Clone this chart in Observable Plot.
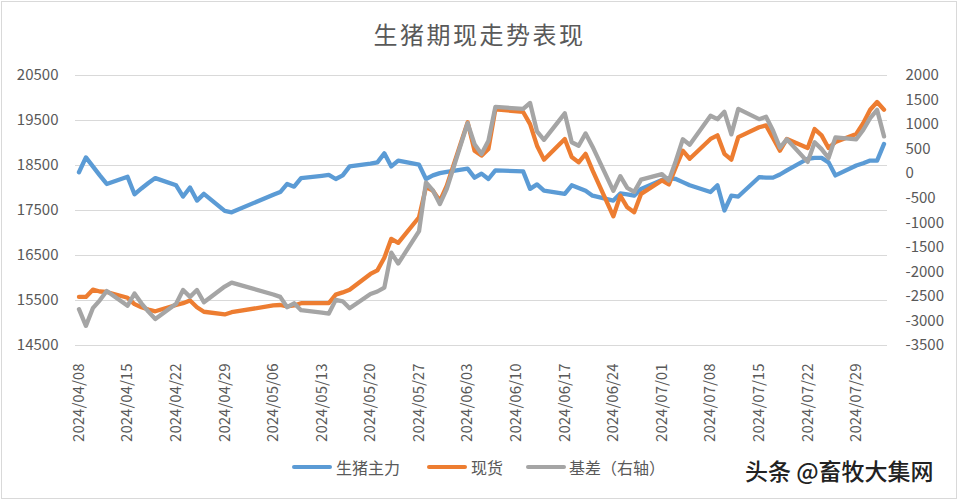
<!DOCTYPE html>
<html>
<head>
<meta charset="utf-8">
<script src="https://cdn.jsdelivr.net/npm/d3@7"></script>
<script src="https://cdn.jsdelivr.net/npm/@observablehq/plot@0.6"></script>
<style>
html,body{margin:0;padding:0;background:#fff;}
#wrap{position:relative;width:959px;height:500px;background:#fff;font-family:"Noto Sans CJK SC",sans-serif;overflow:hidden;}
#frame{position:absolute;left:1px;top:1px;width:954px;height:496px;border:1px solid #d9d9d9;pointer-events:none;}
#title{position:absolute;left:0;top:0;width:959px;height:68px;line-height:68px;text-align:center;font-size:24px;color:#595959;letter-spacing:2.5px;}
#chart{position:absolute;left:0;top:60px;}
#legend{position:absolute;left:0;top:440px;width:959px;height:60px;}
.sw{position:absolute;height:4px;width:40px;border-radius:2px;top:25px;}
.lt{position:absolute;top:16px;font-size:16px;line-height:22px;color:#595959;white-space:nowrap;}
#wm{position:absolute;left:745px;top:455px;font-size:23px;line-height:30px;color:#222;font-weight:500;white-space:nowrap;}
</style>
</head>
<body>
<div id="wrap">
  <div id="title"></div>
  <div id="chart"></div>
  <div id="legend"></div>
  <div id="wm"></div>
  <div id="frame"></div>
</div>
<script>
const chartTitle = "生猪期现走势表现";
const watermark = "头条 @畜牧大集网";
const seriesNames = ["生猪主力", "现货", "基差（右轴）"];
const seriesColors = ["#5B9BD5", "#ED7D31", "#A5A5A5"];

const dates = [
"2024-04-08","2024-04-09","2024-04-10","2024-04-11","2024-04-12",
"2024-04-15","2024-04-16","2024-04-17","2024-04-18","2024-04-19",
"2024-04-22","2024-04-23","2024-04-24","2024-04-25","2024-04-26",
"2024-04-29","2024-04-30",
"2024-05-06","2024-05-07","2024-05-08","2024-05-09","2024-05-10",
"2024-05-13","2024-05-14","2024-05-15","2024-05-16","2024-05-17",
"2024-05-20","2024-05-21","2024-05-22","2024-05-23","2024-05-24",
"2024-05-27","2024-05-28","2024-05-29","2024-05-30","2024-05-31",
"2024-06-03","2024-06-04","2024-06-05","2024-06-06","2024-06-07",
"2024-06-11","2024-06-12","2024-06-13","2024-06-14",
"2024-06-17","2024-06-18","2024-06-19","2024-06-20","2024-06-21",
"2024-06-24","2024-06-25","2024-06-26","2024-06-27","2024-06-28",
"2024-07-01","2024-07-02","2024-07-03","2024-07-04","2024-07-05",
"2024-07-08","2024-07-09","2024-07-10","2024-07-11","2024-07-12",
"2024-07-15","2024-07-16","2024-07-17","2024-07-18","2024-07-19",
"2024-07-22","2024-07-23","2024-07-24","2024-07-25","2024-07-26",
"2024-07-29","2024-07-30","2024-07-31","2024-08-01","2024-08-02"
];

// 生猪主力 (left axis)
const futures = [
18350,18680,18480,18280,18090,
18250,17860,17990,18110,18220,
18060,17810,18010,17720,17870,
17490,17460,
17850,17910,18090,18030,18220,
18270,18290,18200,18280,18480,
18540,18570,18770,18480,18610,
18520,18200,18280,18330,18360,
18430,18230,18320,18200,18390,
18370,17980,18080,17940,
17870,18060,18000,17940,17830,
17720,17880,17860,17830,17980,
18180,18220,18200,18130,18060,
17910,18060,17500,17830,17810,
18240,18230,18230,18300,18390,
18650,18670,18670,18570,18280,
18500,18550,18610,18610,18980
];

// 现货 (left axis)
const spot = [
15580,15580,15740,15700,15690,
15560,15420,15350,15300,15260,
15400,15440,15500,15350,15250,
15190,15240,
15390,15400,15370,15390,15440,
15440,15440,15630,15680,15740,
16090,16170,16450,16870,16780,
17350,18020,17940,17710,18050,
19460,18830,18720,18870,19750,
19690,19420,18940,18630,
19090,18690,18570,18760,18390,
17370,17830,17570,17460,17870,
18170,18080,18460,18830,18650,
19090,19170,18760,18630,19130,
19350,19390,19110,18830,19090,
18890,19310,19170,18890,19020,
19200,19440,19740,19910,19740
];

// 基差 (right axis)
const basis = [
-2760,-3100,-2740,-2580,-2390,
-2690,-2440,-2640,-2810,-2960,
-2650,-2370,-2510,-2370,-2620,
-2300,-2220,
-2460,-2510,-2720,-2640,-2780,
-2830,-2850,-2570,-2600,-2740,
-2450,-2400,-2320,-1610,-1830,
-1170,-180,-340,-620,-310,
1030,600,400,670,1360,
1320,1440,860,690,
1230,640,570,820,550,
-350,-50,-290,-370,-120,
-10,-140,260,700,590,
1180,1110,1260,800,1320,
1110,1160,880,530,700,
240,640,500,320,740,
700,890,1130,1300,760
];

const leftTicks = [14500,15500,16500,17500,18500,19500,20500];
const rightTicks = [-3500,-3000,-2500,-2000,-1500,-1000,-500,0,500,1000,1500,2000];
const xTickLabels = ["2024-04-08","2024-04-15","2024-04-22","2024-04-29","2024-05-06","2024-05-13",
"2024-05-20","2024-05-27","2024-06-03","2024-06-10","2024-06-17","2024-06-24","2024-07-01",
"2024-07-08","2024-07-15","2024-07-22","2024-07-29"];

// secondary axis mapping onto the primary scale
const L0 = 14500, L1 = 20500, R0 = -3500, R1 = 2000;
const toLeft = b => L0 + (b - R0) * (L1 - L0) / (R1 - R0);
const fromLeft = v => R0 + (v - L0) * (R1 - R0) / (L1 - L0);

const rows = dates.map((d, i) => ({
  date: new Date(d + "T00:00:00Z"),
  fut: futures[i],
  spot: spot[i],
  basisL: toLeft(basis[i])
}));

const fmt = d3.utcFormat("%Y/%m/%d");
const font = "'Noto Sans CJK SC', sans-serif";

const chart = Plot.plot({
  width: 959,
  height: 380,
  marginTop: 15,
  marginBottom: 95,
  marginLeft: 75,
  marginRight: 72,
  x: {type: "utc", domain: [new Date(Date.UTC(2024,3,7,12)), new Date(Date.UTC(2024,7,2,12))], label: null},
  y: {domain: [L0, L1], label: null},
  style: {fontFamily: font, fontSize: "15px", color: "#595959", background: "transparent", overflow: "visible"},
  marks: [
    Plot.gridY(leftTicks, {stroke: "#d9d9d9", strokeOpacity: 1, strokeWidth: 1}),
    Plot.axisY(leftTicks, {anchor: "left", tickSize: 0, tickPadding: 17, tickFormat: d => String(d)}),
    Plot.axisY(rightTicks.map(toLeft), {anchor: "right", tickSize: 0, tickPadding: 18, tickFormat: v => String(Math.round(fromLeft(v)))}),
    Plot.axisX(xTickLabels.map(s => new Date(s + "T00:00:00Z")), {anchor: "bottom", tickSize: 0, tickPadding: 18, tickRotate: -90, tickFormat: fmt}),
    Plot.line(rows, {x: "date", y: "fut", stroke: seriesColors[0], strokeWidth: 4.3, strokeLinejoin: "round", strokeLinecap: "round"}),
    Plot.line(rows, {x: "date", y: "spot", stroke: seriesColors[1], strokeWidth: 4.3, strokeLinejoin: "round", strokeLinecap: "round"}),
    Plot.line(rows, {x: "date", y: "basisL", stroke: seriesColors[2], strokeWidth: 4.3, strokeLinejoin: "round", strokeLinecap: "round"})
  ]
});
document.getElementById("chart").appendChild(chart);
document.getElementById("title").textContent = chartTitle;
document.getElementById("wm").textContent = watermark;

// legend
const legend = document.getElementById("legend");
const swatchX = [292, 427, 526];
const textX = [336, 471, 569];
seriesNames.forEach((name, i) => {
  const sw = document.createElement("div");
  sw.className = "sw";
  sw.style.left = swatchX[i] + "px";
  sw.style.background = seriesColors[i];
  legend.appendChild(sw);
  const t = document.createElement("div");
  t.className = "lt";
  t.style.left = textX[i] + "px";
  t.textContent = name;
  legend.appendChild(t);
});
</script>
</body>
</html>
